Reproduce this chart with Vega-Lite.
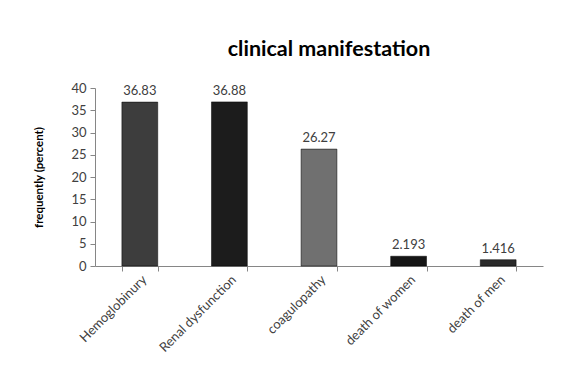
{
  "$schema": "https://vega.github.io/schema/vega-lite/v6.json",
  "width": 448,
  "height": 178,
  "padding": {"left": 33, "top": 38, "right": 28, "bottom": 10},
  "background": "white",
  "title": {"text": "clinical manifestation", "font": "Lato", "fontSize": 21.5, "fontWeight": "bold", "color": "#000000", "anchor": "middle", "offset": 22, "dx": 10},
  "data": {"values": [
    {"cat": "Hemoglobinury", "v": 36.83, "label": "36.83"},
    {"cat": "Renal dysfunction", "v": 36.88, "label": "36.88"},
    {"cat": "coagulopathy", "v": 26.27, "label": "26.27"},
    {"cat": "death of women", "v": 2.193, "label": "2.193"},
    {"cat": "death of men", "v": 1.416, "label": "1.416"}
  ]},
  "encoding": {
    "x": {"field": "cat", "type": "nominal", "sort": null,
      "scale": {"paddingInner": 0.6, "paddingOuter": 0.3},
      "axis": {"title": null, "labelAngle": -45, "labelAlign": "right", "labelBaseline": "top", "labelFont": "Lato", "labelFontSize": 13, "labelColor": "#404040", "labelPadding": 2, "domainColor": "#868686", "tickColor": "#868686", "tickBand": "extent", "tickSize": 5}},
    "y": {"field": "v", "type": "quantitative",
      "scale": {"domain": [0, 40], "nice": false},
      "axis": {"title": "frequently (percent)", "titleFont": "Lato", "titleFontSize": 11.5, "titleFontWeight": "bold", "titleColor": "#000000", "titlePadding": 26, "values": [0,5,10,15,20,25,30,35,40], "grid": false, "labelFont": "Lato", "labelFontSize": 13, "labelColor": "#404040", "domainColor": "#868686", "tickColor": "#868686", "tickSize": 5, "labelPadding": 4}}
  },
  "layer": [
    {"mark": {"type": "bar", "stroke": "#000000", "strokeWidth": 0.5},
     "encoding": {"color": {"field": "cat", "type": "nominal", "sort": null, "legend": null,
       "scale": {"domain": ["Hemoglobinury", "Renal dysfunction", "coagulopathy", "death of women", "death of men"], "range": ["#3d3d3d", "#1c1c1c", "#707070", "#151515", "#2a2a2a"]}}}},
    {"mark": {"type": "text", "dy": -11, "font": "Lato", "fontSize": 13, "color": "#404040"},
     "encoding": {"text": {"field": "label", "type": "nominal"}}}
  ],
  "config": {"view": {"stroke": null}}
}
